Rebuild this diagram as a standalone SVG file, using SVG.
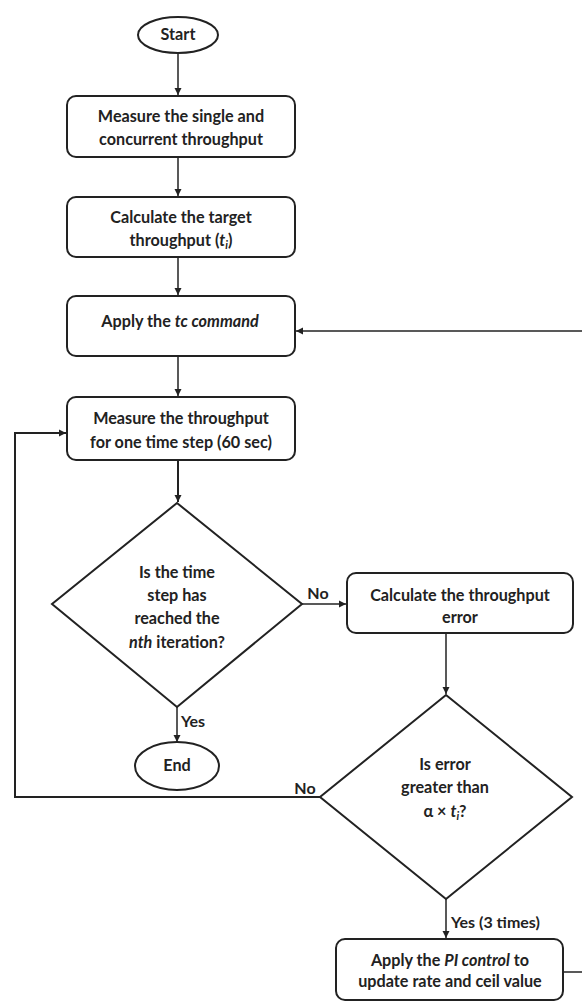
<svg xmlns="http://www.w3.org/2000/svg" width="582" height="1001" viewBox="0 0 582 1001">
<style>
.n{fill:#fff;stroke:#222;stroke-width:2}
.t{font-family:Lato,"Open Sans",sans-serif;font-weight:700;font-size:16.2px;fill:#222;text-anchor:middle}
.l{font-family:Lato,"Open Sans",sans-serif;font-weight:700;font-size:16px;fill:#222}
.c{fill:none;stroke:#222;stroke-width:1.5}
.c2{fill:none;stroke:#222;stroke-width:2}
</style>
<defs>
<marker id="a" markerWidth="8" markerHeight="8" refX="7" refY="4" orient="auto" markerUnits="userSpaceOnUse">
<path d="M0,0.5 L7,4 L0,7.5 Z" fill="#222"/>
</marker>
</defs>
<rect width="582" height="1001" fill="#fff"/>
<g id="connectors">
<path class="c" d="M178,53 V95" marker-end="url(#a)"/>
<path class="c" d="M178,157 V196" marker-end="url(#a)"/>
<path class="c" d="M178,257 V295" marker-end="url(#a)"/>
<path class="c" d="M178,356 V396" marker-end="url(#a)"/>
<path class="c2" d="M178,460 V502" marker-end="url(#a)"/>
<path class="c" d="M302,604 H346" marker-end="url(#a)"/>
<path class="c" d="M177,707 V742" marker-end="url(#a)"/>
<path class="c" d="M446,633 V694" marker-end="url(#a)"/>
<path class="c2" d="M320,797 H15 V433 H66" marker-end="url(#a)"/>
<path class="c" d="M446,899 V938" marker-end="url(#a)"/>
<path class="c" d="M582,331 H296" marker-end="url(#a)"/>
<path class="c" d="M563,972 H582"/>
<text class="l" x="318" y="599" text-anchor="middle">No</text>
<text class="l" x="181" y="727">Yes</text>
<text class="l" x="305" y="794" text-anchor="middle">No</text>
<text class="l" x="451" y="928">Yes (3 times)</text>
</g>
<g id="start">
<ellipse class="n" cx="178" cy="35" rx="40" ry="18"/>
<text class="t" x="178" y="40">Start</text>
</g>
<g id="measure-single">
<rect class="n" x="67" y="96" width="228" height="61" rx="9"/>
<text class="t" x="181" y="122">Measure the single and</text>
<text class="t" x="181" y="145">concurrent throughput</text>
</g>
<g id="calc-target">
<rect class="n" x="67" y="197" width="228" height="60" rx="9"/>
<text class="t" x="181" y="223">Calculate the target</text>
<text class="t" x="181" y="246">throughput (<tspan font-style="italic">t</tspan><tspan font-style="italic" font-size="11px" dy="3">i</tspan><tspan dy="-3">)</tspan></text>
</g>
<g id="apply-tc">
<rect class="n" x="67" y="296" width="228" height="60" rx="9"/>
<text class="t" x="180" y="327">Apply the <tspan font-style="italic">tc command</tspan></text>
</g>
<g id="measure-step">
<rect class="n" x="67" y="397" width="228" height="63" rx="9"/>
<text class="t" x="181" y="424">Measure the throughput</text>
<text class="t" x="181" y="448">for one time step (60 sec)</text>
</g>
<g id="decision-iter">
<polygon class="n" points="177,503 302,604 177,707 52,604"/>
<text class="t" x="177" y="578">Is the time</text>
<text class="t" x="177" y="601">step has</text>
<text class="t" x="177" y="624">reached the</text>
<text class="t" x="177" y="648"><tspan font-style="italic">nth</tspan> iteration?</text>
</g>
<g id="end">
<ellipse class="n" cx="177" cy="766" rx="42" ry="24"/>
<text class="t" x="177" y="771">End</text>
</g>
<g id="calc-error">
<rect class="n" x="347" y="573" width="226" height="60" rx="9"/>
<text class="t" x="460" y="601">Calculate  the throughput</text>
<text class="t" x="460" y="623">error</text>
</g>
<g id="decision-error">
<polygon class="n" points="446,695 572,797 446,899 320,797"/>
<text class="t" x="445" y="770">Is error</text>
<text class="t" x="445" y="793">greater than</text>
<text class="t" x="445" y="817">α × <tspan font-style="italic">t</tspan><tspan font-style="italic" font-size="11px" dy="3">i</tspan><tspan dy="-3">?</tspan></text>
</g>
<g id="apply-pi">
<rect class="n" x="336" y="939" width="227" height="61" rx="9"/>
<text class="t" x="450" y="966">Apply the <tspan font-style="italic">PI control</tspan> to</text>
<text class="t" x="450" y="987">update rate and ceil value</text>
</g>
</svg>
